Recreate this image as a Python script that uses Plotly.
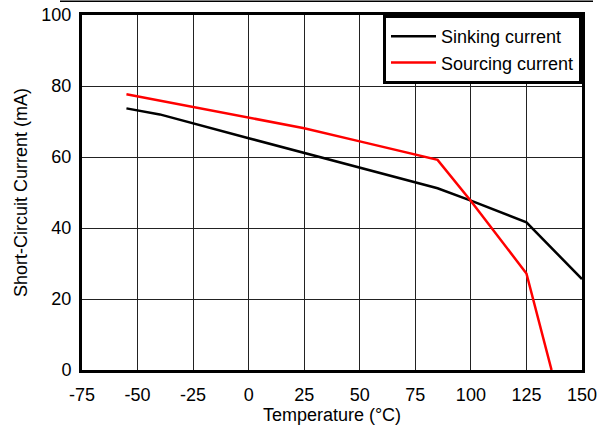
import plotly.graph_objects as go

# Short-circuit current vs temperature
sink_temp = [-55, -40, 0, 25, 50, 85, 100, 125, 150]
sink_ma = [73.7, 72.0, 65.3, 61.2, 57.1, 51.2, 47.7, 41.6, 25.6]

source_temp = [-55, -40, 0, 25, 50, 85, 100, 125, 136.3]
source_ma = [77.7, 75.9, 71.2, 68.1, 64.4, 59.2, 47.6, 27.2, 0]

x_ticks = [-75, -50, -25, 0, 25, 50, 75, 100, 125, 150]
x_labels = ["-75", "-50", "-25", "0", "25", "50", "75", "100", "125", "150"]
y_ticks = [0, 20, 40, 60, 80, 100]

FONT = "Liberation Sans, Arial, sans-serif"
TXT = dict(family=FONT, size=18, color="#000000")

fig = go.Figure()
fig.add_trace(
    go.Scatter(
        x=sink_temp,
        y=sink_ma,
        mode="lines",
        line=dict(color="#000000", width=2.5),
        name="Sinking current",
    )
)
fig.add_trace(
    go.Scatter(
        x=source_temp,
        y=source_ma,
        mode="lines",
        line=dict(color="#ff0000", width=2.5),
        name="Sourcing current",
    )
)

axis_common = dict(
    showline=True,
    linecolor="#000000",
    linewidth=3,
    mirror=True,
    showgrid=True,
    gridcolor="#222222",
    gridwidth=1,
    zeroline=False,
    ticks="",
    automargin=False,
    tickfont=TXT,
)

fig.update_xaxes(
    range=[-75, 150],
    tickvals=x_ticks,
    ticktext=x_labels,
    ticklabelstandoff=6,
    title=dict(text="Temperature (°C)", font=TXT, standoff=4),
    **axis_common,
)
fig.update_yaxes(
    range=[0, 100],
    tickvals=y_ticks,
    ticklabelstandoff=4,
    title=dict(text="Short-Circuit Current (mA)", font=TXT, standoff=10),
    **axis_common,
)

fig.update_layout(
    width=598,
    height=428,
    plot_bgcolor="white",
    paper_bgcolor="white",
    margin=dict(l=82, r=16, t=15, b=58),
    font=TXT,
    legend=dict(
        x=1,
        y=1,
        xanchor="right",
        yanchor="top",
        bgcolor="white",
        bordercolor="#000000",
        borderwidth=3,
        font=TXT,
        tracegroupgap=0,
        itemwidth=45,
    ),
    shapes=[
        dict(
            type="line",
            xref="paper",
            yref="paper",
            x0=-0.044,
            x1=1.022,
            y0=1.039,
            y1=1.039,
            line=dict(color="#000000", width=1.5),
        )
    ],
)

fig.write_html(
    "out.html",
    config={"displayModeBar": False},
    post_script="document.body.style.margin='0';",
)
